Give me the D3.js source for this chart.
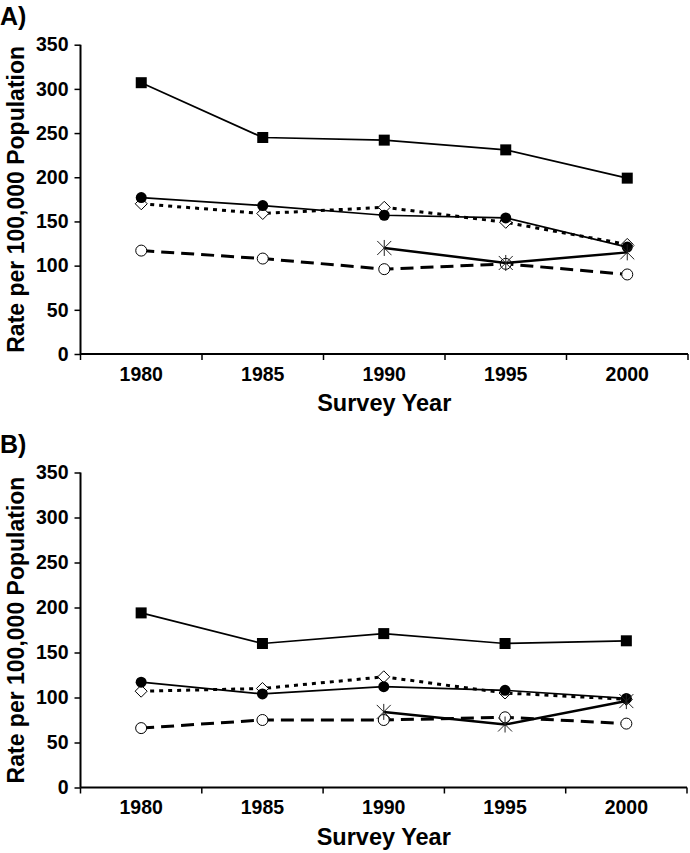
<!DOCTYPE html>
<html>
<head>
<meta charset="utf-8">
<script src="https://cdn.jsdelivr.net/npm/d3@7"></script>
<style>
  html, body { margin: 0; padding: 0; background: #fff; }
  svg { display: block; }
  text { font-family: "Liberation Sans", Arial, sans-serif; font-weight: bold; fill: #000; }
</style>
</head>
<body>
<script>
// ---- data ----
const years = ["1980", "1985", "1990", "1995", "2000"];
const yTicks = [0, 50, 100, 150, 200, 250, 300, 350];

const squaresA     = [307, 245, 242, 231, 199];
const circlesA     = [177, 168, 157, 154, 121];
const diamondsA    = [170, 159, 166, 149, 124];
const openCirclesA = [117, 108, 96, 102, 90];
const starsA       = [null, null, 120, 103, 115];

const squaresB     = [194, 160, 171, 160, 163];
const circlesB     = [117, 104, 112, 108, 99];
const diamondsB    = [107, 110, 123, 105, 98];
const openCirclesB = [66, 75, 75, 78, 71];
const starsB       = [null, null, 84, 70, 96];

const panelLabels = ["A)", "B)"];
const xTitle = "Survey Year";
const yTitle = "Rate per 100,000 Population";

// ---- layout ----
const W = 690, H = 853;
const svg = d3.select("body").append("svg").attr("width", W).attr("height", H);

const panels = [
  { label: panelLabels[0], top: 44.7, bottom: 354, left: 80.5, right: 688, labelY: 25,
    series: [openCirclesA, diamondsA, circlesA, squaresA, starsA] },
  { label: panelLabels[1], top: 472.5, bottom: 787.5, left: 80.5, right: 687, labelY: 453,
    series: [openCirclesB, diamondsB, circlesB, squaresB, starsB] }
];

const styles = [
  { marker: "openCircle", width: 3, dash: "13,7" },
  { marker: "diamond", width: 3, dash: "4,5" },
  { marker: "circle", width: 1.7, dash: null },
  { marker: "square", width: 1.7, dash: null },
  { marker: "star", width: 2.5, dash: null }
];

function drawMarker(g, type, cx, cy) {
  if (type === "square") {
    g.append("rect").attr("x", cx - 5.5).attr("y", cy - 5.5).attr("width", 11).attr("height", 11).attr("fill", "#000");
  } else if (type === "circle") {
    g.append("circle").attr("cx", cx).attr("cy", cy).attr("r", 5.5).attr("fill", "#000");
  } else if (type === "openCircle") {
    g.append("circle").attr("cx", cx).attr("cy", cy).attr("r", 5.5).attr("fill", "#fff").attr("stroke", "#000").attr("stroke-width", 1);
  } else if (type === "diamond") {
    const s = 6;
    g.append("path").attr("d", `M${cx},${cy - s}L${cx + s},${cy}L${cx},${cy + s}L${cx - s},${cy}Z`)
      .attr("fill", "#fff").attr("stroke", "#000").attr("stroke-width", 1);
  } else if (type === "star") {
    const v = 8, d = 7;
    g.append("path").attr("d", `M${cx},${cy - v}L${cx},${cy + v}M${cx - d},${cy - d}L${cx + d},${cy + d}M${cx - d},${cy + d}L${cx + d},${cy - d}`)
      .attr("stroke", "#222").attr("stroke-width", 1).attr("fill", "none");
  }
}

panels.forEach(p => {
  const g = svg.append("g");
  const x = d3.scaleBand().domain(years).range([p.left, p.right]).padding(0);
  const y = d3.scaleLinear().domain([0, 350]).range([p.bottom, p.top]);

  // panel label
  g.append("text").attr("x", 0).attr("y", p.labelY).attr("font-size", 25).text(p.label);

  // y axis
  const yAxis = d3.axisLeft(y).tickValues(yTicks).tickSize(6).tickPadding(6);
  const ya = g.append("g").attr("transform", `translate(${p.left},0)`).call(yAxis);
  ya.select(".domain").attr("stroke", "#000").attr("stroke-width", 2).attr("d", `M-0,${p.bottom}V${p.top}`);
  ya.selectAll(".tick line").attr("stroke", "#000").attr("stroke-width", 1.5);
  ya.selectAll(".tick text").attr("font-size", 19.5).attr("font-family", "Liberation Sans, Arial, sans-serif").attr("font-weight", "bold").attr("fill", "#000");

  // x axis: labels centered in bands, ticks on band boundaries
  const xAxis = d3.axisBottom(x).tickSize(0).tickPadding(13);
  const xa = g.append("g").attr("transform", `translate(0,${p.bottom})`).call(xAxis);
  xa.select(".domain").attr("stroke", "#000").attr("stroke-width", 2).attr("d", `M${p.left},0H${p.right}`);
  xa.selectAll(".tick text").attr("font-size", 19.5).attr("font-family", "Liberation Sans, Arial, sans-serif").attr("font-weight", "bold").attr("fill", "#000");
  const bounds = years.map(d => x(d)).concat([x(years[years.length - 1]) + x.bandwidth()]);
  xa.selectAll(".bt").data(bounds).enter().append("line")
    .attr("x1", d => d).attr("x2", d => d).attr("y1", 0).attr("y2", 6)
    .attr("stroke", "#000").attr("stroke-width", 1.5);

  // axis titles
  g.append("text").attr("x", (p.left + p.right) / 2).attr("y", p.bottom + 57)
    .attr("text-anchor", "middle").attr("font-size", 23.5).text(xTitle);
  g.append("text").attr("transform", `translate(24,${(p.top + p.bottom) / 2}) rotate(-90)`)
    .attr("text-anchor", "middle").attr("font-size", 23).text(yTitle);

  // series
  p.series.forEach((vals, i) => {
    const st = styles[i];
    const pts = years.map((yr, j) => ({ yr, v: vals[j] })).filter(d => d.v != null);
    const line = d3.line().x(d => x(d.yr) + x.bandwidth() / 2).y(d => y(d.v));
    const sg = g.append("g");
    sg.append("path").datum(pts).attr("d", line).attr("fill", "none").attr("stroke", "#000")
      .attr("stroke-width", st.width).attr("stroke-dasharray", st.dash);
    pts.forEach(d => drawMarker(sg, st.marker, x(d.yr) + x.bandwidth() / 2, y(d.v)));
  });
});
</script>
</body>
</html>
